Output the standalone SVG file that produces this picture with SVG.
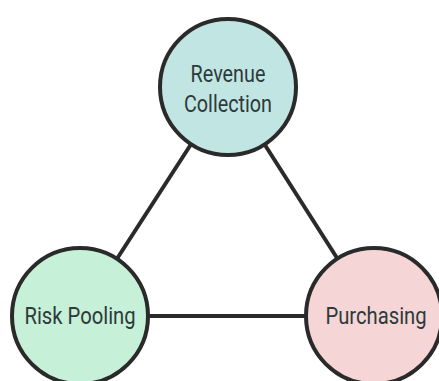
<svg xmlns="http://www.w3.org/2000/svg" width="439" height="381" viewBox="0 0 439 381">
<style>
.node{stroke:#2a2a2a;stroke-width:4}
.lbl{font-family:Roboto,"Liberation Sans",sans-serif;font-size:23px;fill:#2e3a3a;text-anchor:middle}
.edge{stroke:#2a2a2a;stroke-width:4;fill:none}
</style>
<rect width="439" height="381" fill="#ffffff"/>
<g id="connectors">
<line class="edge" x1="228" y1="87" x2="80" y2="316"/>
<line class="edge" x1="228" y1="87" x2="374" y2="316"/>
<line class="edge" x1="80" y1="316" x2="374" y2="316"/>
</g>
<g id="revenue-collection">
<circle class="node" cx="228" cy="87" r="68" fill="#c0e5e3"/>
<text class="lbl" transform="translate(228,82) scale(0.86,1)">Revenue</text>
<text class="lbl" transform="translate(228,112) scale(0.86,1)">Collection</text>
</g>
<g id="risk-pooling">
<circle class="node" cx="80" cy="316" r="68" fill="#c6f0d8"/>
<text class="lbl" transform="translate(80,324) scale(0.88,1)">Risk Pooling</text>
</g>
<g id="purchasing">
<circle class="node" cx="374" cy="316" r="68" fill="#f5d5d5"/>
<text class="lbl" transform="translate(376,324) scale(0.88,1)">Purchasing</text>
</g>
</svg>
